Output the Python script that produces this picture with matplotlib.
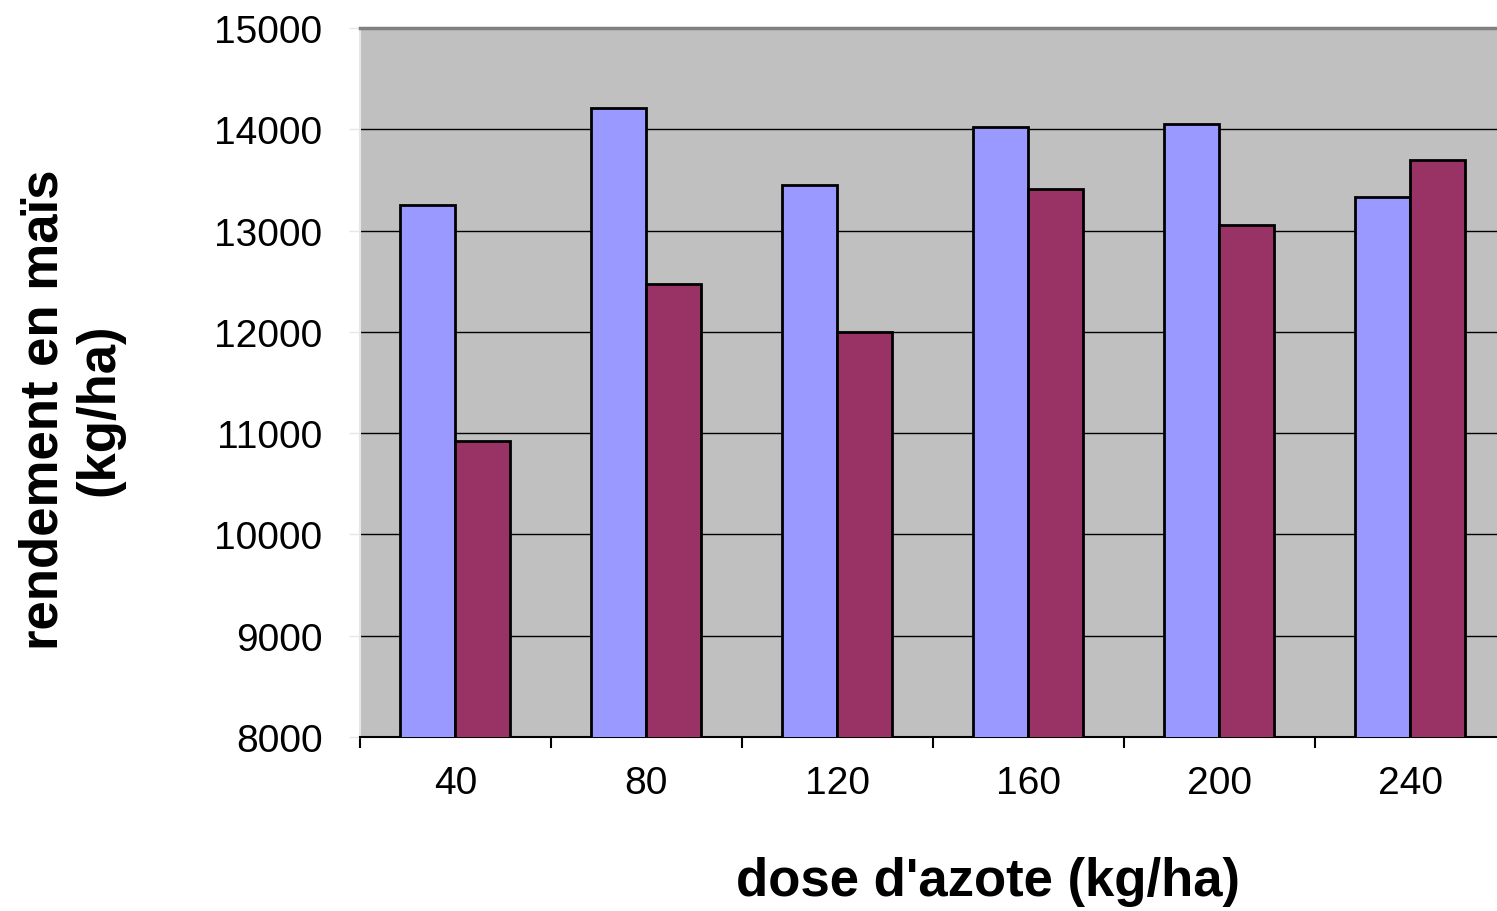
import numpy as np
import matplotlib
matplotlib.use("Agg")
import matplotlib.pyplot as plt

# data
doses = ["40", "80", "120", "160", "200", "240"]
yield_a = [13250, 14210, 13450, 14020, 14050, 13330]   # blue bars
yield_b = [10920, 12470, 12000, 13410, 13055, 13700]   # purple bars

plt.rcParams["font.family"] = ["Liberation Sans", "DejaVu Sans"]

fig = plt.figure(figsize=(14.97, 9.12), dpi=100)
ax = fig.add_axes([360 / 1497, 1 - 738 / 912, 1 - 360 / 1497, (738 - 29) / 912])

x = np.arange(len(doses))
w = 0.288
ax.set_facecolor("#C0C0C0")
ax.bar(x - w / 2, yield_a, width=w, color="#9999FF",
       edgecolor="black", linewidth=2, zorder=3)
ax.bar(x + w / 2, yield_b, width=w, color="#993366",
       edgecolor="black", linewidth=2, zorder=3)

ax.set_ylim(8000, 15000)
ax.set_xlim(-0.5, 5.455)
ax.set_yticks(range(8000, 15001, 1000))
ax.yaxis.grid(True, color="black", linewidth=1, zorder=1)
ax.set_axisbelow(True)

# category labels at centres, tick marks at boundaries
ax.set_xticks(x)
ax.set_xticklabels(doses)
ax.set_xticks(np.arange(-0.5, 5.0, 1.0), minor=True)
ax.tick_params(axis="x", which="major", length=0, pad=20, labelsize=28)
ax.tick_params(axis="x", which="minor", length=8, width=1.5, color="black")
ax.tick_params(axis="y", length=8, width=1, color="#E6E6E6", labelsize=28, pad=19)

ax.spines["top"].set_color("#808080")
ax.spines["top"].set_linewidth(2.5)
ax.spines["right"].set_visible(False)
ax.spines["left"].set_color("#E6E6E6")
ax.spines["left"].set_linewidth(1.5)
ax.spines["bottom"].set_color("black")
ax.spines["bottom"].set_linewidth(1.5)

fig.text(988 / 1497, 1 - 882 / 912, "dose d'azote (kg/ha)", fontsize=38,
         fontweight="bold", ha="center", va="center")
fig.text(71 / 1497, 1 - 410 / 912, "rendement en maïs\n(kg/ha)", fontsize=38,
         fontweight="bold", ha="center", va="center", rotation=90,
         multialignment="center", linespacing=1.15)

fig.savefig("out.png", dpi=100)
